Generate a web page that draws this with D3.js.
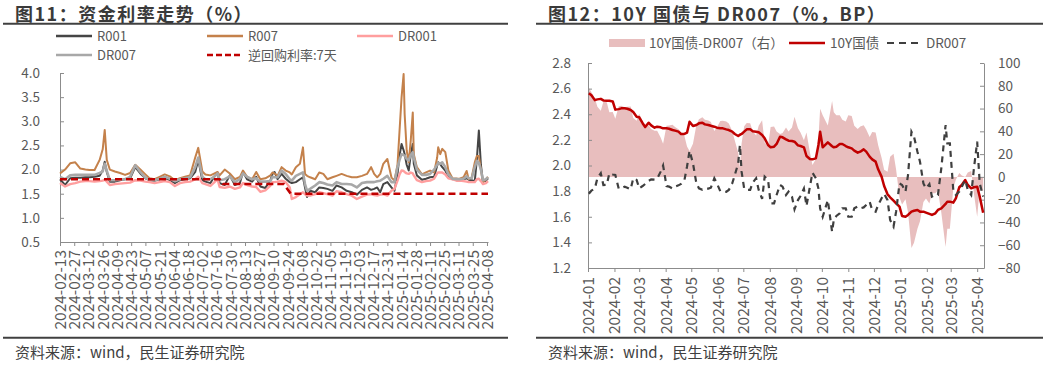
<!DOCTYPE html>
<html><head><meta charset="utf-8">
<script src="https://cdn.jsdelivr.net/npm/d3@7"></script>
<style>
body{margin:0;background:#fff;}
svg{display:block;}
</style></head><body>
<svg id="c" width="1043" height="365"></svg>
<script>
// ---------------- DATA: 图11 资金利率 ----------------
const rateDates = ["2024-02-13","2024-02-18","2024-02-23","2024-02-28","2024-03-04","2024-03-09","2024-03-13","2024-03-18","2024-03-23","2024-03-26","2024-03-28","2024-03-30","2024-04-02","2024-04-07","2024-04-12","2024-04-17","2024-04-22","2024-04-27","2024-05-02","2024-05-07","2024-05-11","2024-05-16","2024-05-21","2024-05-26","2024-05-31","2024-06-05","2024-06-10","2024-06-15","2024-06-20","2024-06-25","2024-06-28","2024-07-02","2024-07-05","2024-07-10","2024-07-14","2024-07-17","2024-07-19","2024-07-24","2024-07-29","2024-08-03","2024-08-08","2024-08-11","2024-08-15","2024-08-20","2024-08-24","2024-08-28","2024-09-02","2024-09-07","2024-09-09","2024-09-11","2024-09-14","2024-09-18","2024-09-22","2024-09-26","2024-09-28","2024-10-02","2024-10-06","2024-10-09","2024-10-11","2024-10-13","2024-10-16","2024-10-21","2024-10-25","2024-10-29","2024-11-02","2024-11-07","2024-11-11","2024-11-16","2024-11-21","2024-11-26","2024-12-01","2024-12-06","2024-12-11","2024-12-15","2024-12-18","2024-12-21","2024-12-24","2024-12-27","2024-12-31","2025-01-04","2025-01-07","2025-01-10","2025-01-12","2025-01-14","2025-01-16","2025-01-17","2025-01-19","2025-01-21","2025-01-23","2025-01-25","2025-01-26","2025-01-29","2025-02-03","2025-02-07","2025-02-11","2025-02-15","2025-02-18","2025-02-19","2025-02-21","2025-02-23","2025-02-26","2025-03-01","2025-03-05","2025-03-09","2025-03-12","2025-03-16","2025-03-19","2025-03-21","2025-03-24","2025-03-27","2025-03-29","2025-03-31","2025-04-02","2025-04-04","2025-04-07","2025-04-09"];
const r001  = [1.80,1.68,1.82,1.83,1.83,1.84,1.84,1.85,1.87,1.98,2.16,1.95,1.75,1.75,1.78,1.80,1.82,2.05,1.92,1.82,1.78,1.77,1.80,1.83,1.78,1.72,1.78,1.80,1.82,1.95,2.20,1.78,1.75,1.72,1.86,1.94,1.72,1.68,1.88,1.68,1.72,1.95,1.80,1.75,1.85,1.65,1.62,1.78,1.91,1.95,1.80,1.91,1.81,1.74,1.72,1.74,1.80,1.84,1.63,1.43,1.56,1.53,1.63,1.62,1.60,1.56,1.67,1.63,1.56,1.53,1.48,1.58,1.63,1.58,1.60,1.63,1.53,1.70,1.74,1.63,1.56,1.91,2.30,2.53,2.40,2.32,2.10,1.98,2.30,2.53,2.12,1.88,1.79,1.81,1.84,1.85,2.08,2.15,2.11,2.05,1.98,1.85,1.80,1.81,1.80,1.80,1.82,1.79,1.78,1.76,2.20,2.81,2.10,1.75,1.77,1.82];
const r007  = [1.92,2.00,2.13,2.15,2.02,2.00,1.99,1.99,2.20,2.42,2.82,2.20,2.00,1.96,1.93,1.89,1.93,2.10,2.00,1.90,1.82,1.80,1.85,1.90,1.86,1.78,1.82,1.85,1.88,2.25,2.45,1.96,1.90,1.88,1.92,1.95,1.88,2.00,1.92,1.80,1.85,1.98,1.85,1.80,1.95,1.80,1.82,1.88,1.94,1.92,1.87,2.05,1.98,1.94,1.90,2.05,2.12,2.46,1.91,1.87,1.84,1.80,1.94,1.91,1.80,1.84,1.87,1.91,1.87,1.84,1.84,1.87,1.91,2.05,1.91,1.84,1.91,2.12,2.22,1.84,1.77,2.10,2.81,3.50,3.98,3.15,2.40,2.15,2.60,3.18,2.32,2.05,1.90,1.94,1.98,1.94,2.25,2.46,2.32,2.43,2.36,1.98,1.82,1.81,1.81,1.84,1.97,1.80,1.84,2.15,2.28,2.28,2.00,1.74,1.80,1.85];
const dr001 = [1.72,1.65,1.70,1.72,1.75,1.76,1.76,1.75,1.76,1.77,1.79,1.75,1.68,1.70,1.71,1.72,1.73,1.78,1.77,1.75,1.74,1.72,1.74,1.76,1.74,1.66,1.72,1.74,1.75,1.80,1.85,1.72,1.70,1.66,1.74,1.80,1.64,1.62,1.65,1.60,1.63,1.72,1.68,1.65,1.64,1.54,1.57,1.67,1.74,1.74,1.75,1.77,1.74,1.63,1.39,1.43,1.49,1.53,1.49,1.46,1.46,1.49,1.53,1.51,1.49,1.46,1.55,1.53,1.49,1.46,1.39,1.44,1.48,1.49,1.47,1.46,1.48,1.49,1.46,1.56,1.60,1.77,1.90,1.98,1.97,1.95,1.92,1.91,1.94,1.92,1.88,1.78,1.74,1.76,1.77,1.81,1.92,1.94,1.94,1.94,1.90,1.82,1.80,1.77,1.77,1.76,1.75,1.74,1.74,1.74,1.80,1.81,1.76,1.70,1.72,1.76];
const dr007 = [1.85,1.80,1.88,1.89,1.89,1.89,1.89,1.89,1.93,1.96,2.12,1.98,1.78,1.78,1.79,1.80,1.85,2.09,1.95,1.83,1.79,1.78,1.81,1.85,1.81,1.76,1.80,1.82,1.84,2.05,2.25,1.85,1.80,1.80,1.86,1.92,1.78,1.80,1.86,1.74,1.80,1.92,1.85,1.80,1.82,1.75,1.75,1.76,1.85,1.84,1.84,1.98,1.91,1.80,1.77,1.87,1.91,1.94,1.70,1.56,1.60,1.67,1.74,1.72,1.69,1.67,1.74,1.70,1.70,1.69,1.63,1.72,1.74,1.74,1.74,1.76,1.77,1.81,1.87,1.74,1.74,2.05,2.20,2.32,2.30,2.29,2.22,2.19,2.30,2.36,2.25,2.00,1.89,1.89,1.91,2.00,2.10,2.14,2.12,2.15,2.05,1.90,1.81,1.80,1.80,1.81,1.86,1.82,1.82,2.05,2.18,2.14,2.00,1.78,1.80,1.84];
const repoDates = ["2024-02-13","2024-07-19","2024-07-22","2024-09-20","2024-09-27","2025-04-09"];
const repo7d    = [1.8,1.8,1.7,1.7,1.5,1.5];
const leftXTicks = ["2024-02-13","2024-02-27","2024-03-12","2024-03-26","2024-04-09","2024-04-23","2024-05-07","2024-05-21","2024-06-04","2024-06-18","2024-07-02","2024-07-16","2024-07-30","2024-08-13","2024-08-27","2024-09-10","2024-09-24","2024-10-08","2024-10-22","2024-11-05","2024-11-19","2024-12-03","2024-12-17","2024-12-31","2025-01-14","2025-01-28","2025-02-11","2025-02-25","2025-03-11","2025-03-25","2025-04-08"];
const leftYTicks = [0.5,1.0,1.5,2.0,2.5,3.0,3.5,4.0];
const leftNames = ["R001","R007","DR001","DR007","逆回购利率:7天"];

// ---------------- DATA: 图12 10Y国债与DR007 ----------------
const bondDates = [
"2024-01-02","2024-01-05","2024-01-09","2024-01-12","2024-01-16","2024-01-19","2024-01-23","2024-01-26","2024-01-30","2024-02-02",
"2024-02-06","2024-02-09","2024-02-13","2024-02-16","2024-02-20","2024-02-23","2024-02-27","2024-03-01","2024-03-05","2024-03-08",
"2024-03-12","2024-03-15","2024-03-19","2024-03-22","2024-03-26","2024-03-29","2024-04-02","2024-04-05","2024-04-09","2024-04-12",
"2024-04-16","2024-04-19","2024-04-23","2024-04-26","2024-04-29","2024-05-03","2024-05-07","2024-05-10","2024-05-14","2024-05-17",
"2024-05-21","2024-05-24","2024-05-28","2024-05-31","2024-06-04","2024-06-07","2024-06-11","2024-06-14","2024-06-18","2024-06-21",
"2024-06-25","2024-06-27","2024-06-29","2024-07-02","2024-07-05","2024-07-09","2024-07-12","2024-07-16","2024-07-19","2024-07-23",
"2024-07-26","2024-07-30","2024-08-02","2024-08-06","2024-08-09","2024-08-13","2024-08-16","2024-08-20","2024-08-23","2024-08-27",
"2024-08-30","2024-09-03","2024-09-06","2024-09-10","2024-09-13","2024-09-17","2024-09-20","2024-09-24","2024-09-27","2024-09-29",
"2024-10-02","2024-10-08","2024-10-13","2024-10-15","2024-10-18","2024-10-22","2024-10-25","2024-10-29","2024-11-01","2024-11-05",
"2024-11-08","2024-11-12","2024-11-15","2024-11-19","2024-11-22","2024-11-26","2024-11-29","2024-12-03","2024-12-06","2024-12-10",
"2024-12-13","2024-12-17","2024-12-20","2024-12-24","2024-12-27","2024-12-31","2025-01-03","2025-01-07","2025-01-10","2025-01-14",
"2025-01-17","2025-01-21","2025-01-24","2025-01-28","2025-01-31","2025-02-04","2025-02-07","2025-02-11","2025-02-14","2025-02-18",
"2025-02-23","2025-02-25","2025-02-28","2025-03-04","2025-03-07","2025-03-11","2025-03-14","2025-03-18","2025-03-21","2025-03-25",
"2025-03-28","2025-04-01","2025-04-04","2025-04-08"];
const cgb10y = [
2.563,2.548,2.51,2.516,2.52,2.508,2.506,2.506,2.50,2.436,
2.44,2.446,2.446,2.443,2.433,2.417,2.38,2.376,2.33,2.30,
2.334,2.313,2.295,2.303,2.298,2.29,2.29,2.287,2.277,2.272,
2.264,2.246,2.246,2.256,2.342,2.308,2.316,2.329,2.334,2.321,
2.316,2.31,2.303,2.295,2.29,2.29,2.282,2.277,2.264,2.246,
2.23,2.24,2.246,2.264,2.282,2.282,2.267,2.264,2.259,2.238,
2.212,2.16,2.142,2.147,2.168,2.225,2.22,2.204,2.194,2.191,
2.186,2.157,2.152,2.142,2.074,2.051,2.048,2.056,2.16,2.264,
2.142,2.181,2.15,2.142,2.147,2.168,2.168,2.152,2.142,2.134,
2.116,2.10,2.108,2.126,2.108,2.069,2.048,2.03,1.97,1.913,
1.84,1.775,1.752,1.726,1.705,1.679,1.606,1.60,1.614,1.64,
1.647,1.653,1.64,1.64,1.632,1.622,1.614,1.627,1.653,1.666,
1.70,1.718,1.718,1.71,1.744,1.83,1.848,1.887,1.848,1.822,
1.83,1.835,1.757,1.632];
const dr007b = [
1.78,1.804,1.82,1.90,1.94,1.848,1.85,1.939,1.93,1.926,
1.82,1.822,1.835,1.827,1.815,1.90,1.887,1.822,1.84,1.856,
1.88,1.892,1.89,1.897,1.95,2.00,1.84,1.835,1.82,1.835,
1.845,1.856,1.887,1.99,2.115,2.017,1.86,1.822,1.81,1.82,
1.82,1.827,1.90,1.861,1.80,1.796,1.795,1.809,1.86,1.926,
2.017,2.16,1.95,1.82,1.809,1.81,1.866,1.90,1.809,1.74,
1.913,1.887,1.705,1.705,1.77,1.848,1.835,1.77,1.796,1.757,
1.658,1.73,1.762,1.82,1.684,1.835,1.944,1.90,1.82,1.665,
1.60,1.73,1.483,1.575,1.606,1.627,1.666,1.666,1.60,1.60,
1.666,1.68,1.666,1.673,1.692,1.718,1.653,1.64,1.692,1.744,
1.778,1.73,1.575,1.523,1.64,1.86,1.848,1.796,1.926,2.264,
2.225,2.108,2.03,1.86,1.822,1.855,1.757,1.77,1.77,1.98,
2.316,2.173,2.173,1.809,1.77,1.796,1.835,1.887,1.809,1.77,
1.965,2.186,1.86,1.757];
const rightXTicks = ["2024-01","2024-02","2024-03","2024-04","2024-05","2024-06","2024-07","2024-08","2024-09","2024-10","2024-11","2024-12","2025-01","2025-02","2025-03","2025-04"];
const rightYTicksL = [1.2,1.4,1.6,1.8,2.0,2.2,2.4,2.6,2.8];
const rightYTicksR = [-80,-60,-40,-20,0,20,40,60,80,100];
const rightNames = ["10Y国债-DR007（右）","10Y国债","DR007"];

// ---------------- DRAW ----------------
const FONT = '"Noto Sans CJK SC","Noto Sans",sans-serif';
const TXT = "#595959", AX = "#8c8c8c", DARK = "#404040";
const parseD = d3.timeParse("%Y-%m-%d");
const parseM = d3.timeParse("%Y-%m");
const svg = d3.select("#c");

function styleAxis(g, size){
  g.attr("font-family", null).attr("font-size", null);
  g.select(".domain").attr("stroke", AX).attr("stroke-width", 1);
  g.selectAll(".tick line").attr("stroke", AX);
  g.selectAll("text").attr("fill", TXT).style("font-family", FONT).style("font-size", size + "px");
}

function frame(x0, x1, title){
  svg.append("text").attr("x", x0 + 12).attr("y", 21).text(title)
    .style("font-family", FONT).style("font-size", "18px").style("font-weight", "bold")
    .style("letter-spacing", "1.5px").attr("fill", "#3a3a3a");
  svg.append("line").attr("x1", x0).attr("x2", x1).attr("y1", 23.7).attr("y2", 23.7).attr("stroke", DARK).attr("stroke-width", 2);
  svg.append("line").attr("x1", x0).attr("x2", x1).attr("y1", 337.7).attr("y2", 337.7).attr("stroke", DARK).attr("stroke-width", 2);
  svg.append("text").attr("x", x0 + 12).attr("y", 357.5).text("资料来源：wind，民生证券研究院")
    .style("font-family", FONT).style("font-size", "15px").attr("fill", DARK);
}

// ===== Chart 1 =====
frame(3, 508, "图11：资金利率走势（%）");
const x1 = d3.scaleTime().domain([parseD("2024-02-13"), parseD("2025-04-09")]).range([60, 488]);
const y1 = d3.scaleLinear().domain([0.5, 4.0]).range([242, 73]);

const gy1 = svg.append("g").attr("transform", "translate(60,0)")
  .call(d3.axisLeft(y1).tickValues(leftYTicks).tickFormat(d3.format(".1f")).tickSizeInner(-4).tickSizeOuter(0).tickPadding(20));
styleAxis(gy1, 13.5);
const gx1 = svg.append("g").attr("transform", "translate(0,242)")
  .call(d3.axisBottom(x1).tickValues(leftXTicks.map(parseD)).tickFormat(d3.timeFormat("%Y-%m-%d")).tickSizeInner(4).tickSizeOuter(0));
styleAxis(gx1, 15.5);
gx1.selectAll("text").attr("transform", "rotate(-90)").attr("x", -8).attr("y", 0).attr("dy", "0.35em").attr("text-anchor", "end");

const leftStyle = [
  {vals: r001,  color: "#454545", w: 2},
  {vals: r007,  color: "#C4814B", w: 2},
  {vals: dr001, color: "#FF9E9E", w: 2.4},
  {vals: dr007, color: "#A8A8A8", w: 2.6}
];
const line1 = d3.line().x(d => x1(d[0])).y(d => y1(d[1]));
leftStyle.forEach(s => {
  svg.append("path").datum(rateDates.map((d, i) => [parseD(d), s.vals[i]]))
    .attr("d", line1).attr("fill", "none").attr("stroke", s.color).attr("stroke-width", s.w).attr("stroke-linejoin", "round");
});
svg.append("path").datum(repoDates.map((d, i) => [parseD(d), repo7d[i]]))
  .attr("d", line1).attr("fill", "none").attr("stroke", "#C00000").attr("stroke-width", 2.6).attr("stroke-dasharray", "7,4");

// legend 1
const leg1 = [
  {x: 56, y: 36, color: "#454545", w: 2.4, dash: null},
  {x: 207, y: 36, color: "#C4814B", w: 2.4, dash: null},
  {x: 357, y: 36, color: "#FF9E9E", w: 2.4, dash: null},
  {x: 56, y: 55, color: "#A8A8A8", w: 2.6, dash: null},
  {x: 207, y: 55, color: "#C00000", w: 2.6, dash: "6,3"}
];
leg1.forEach((l, i) => {
  svg.append("line").attr("x1", l.x).attr("x2", l.x + 36).attr("y1", l.y).attr("y2", l.y)
    .attr("stroke", l.color).attr("stroke-width", l.w).attr("stroke-dasharray", l.dash);
  svg.append("text").attr("x", l.x + 41).attr("y", l.y).attr("dy", "0.36em").text(leftNames[i])
    .style("font-family", FONT).style("font-size", "13px").attr("fill", TXT);
});

// ===== Chart 2 =====
frame(536, 1043, "图12：10Y 国债与 DR007（%，BP）");
const x2 = d3.scaleTime().domain([parseD("2024-01-01"), parseD("2025-04-09")]).range([588, 984]);
const y2 = d3.scaleLinear().domain([1.2, 2.8]).range([268, 63]);
const y2r = d3.scaleLinear().domain([-80, 100]).range([268, 63]);

const bond = bondDates.map((d, i) => ({t: parseD(d), y: cgb10y[i], dr: dr007b[i], sp: (cgb10y[i] - dr007b[i]) * 100}));

svg.append("path").datum(bond)
  .attr("d", d3.area().x(d => x2(d.t)).y0(y2r(0)).y1(d => y2r(d.sp)))
  .attr("fill", "#E8BEBE");

const gy2 = svg.append("g").attr("transform", "translate(588,0)")
  .call(d3.axisLeft(y2).tickValues(rightYTicksL).tickFormat(d3.format(".1f")).tickSizeInner(-4).tickSizeOuter(0).tickPadding(17));
styleAxis(gy2, 13.5);
const gy2r = svg.append("g").attr("transform", "translate(984,0)")
  .call(d3.axisRight(y2r).tickValues(rightYTicksR).tickFormat(d3.format("d")).tickSizeInner(-4).tickSizeOuter(0).tickPadding(14));
styleAxis(gy2r, 13.5);
const gx2 = svg.append("g").attr("transform", "translate(0,268)")
  .call(d3.axisBottom(x2).tickValues(rightXTicks.map(parseM)).tickFormat(d3.timeFormat("%Y-%m")).tickSizeInner(4).tickSizeOuter(0));
styleAxis(gx2, 15.5);
gx2.selectAll("text").attr("transform", "rotate(-90)").attr("x", -9).attr("y", 0).attr("dy", "0.35em").attr("text-anchor", "end");

svg.append("path").datum(bond)
  .attr("d", d3.line().x(d => x2(d.t)).y(d => y2(d.y)))
  .attr("fill", "none").attr("stroke", "#C00000").attr("stroke-width", 2.5).attr("stroke-linejoin", "round");
svg.append("path").datum(bond)
  .attr("d", d3.line().x(d => x2(d.t)).y(d => y2(d.dr)))
  .attr("fill", "none").attr("stroke", "#3f3f3f").attr("stroke-width", 2.2).attr("stroke-dasharray", "6,5");

// legend 2
svg.append("rect").attr("x", 609).attr("y", 39).attr("width", 36).attr("height", 8).attr("fill", "#E8BEBE");
svg.append("line").attr("x1", 789).attr("x2", 825).attr("y1", 43).attr("y2", 43).attr("stroke", "#C00000").attr("stroke-width", 2.5);
svg.append("line").attr("x1", 887).attr("x2", 922).attr("y1", 43).attr("y2", 43).attr("stroke", "#3f3f3f").attr("stroke-width", 2.2).attr("stroke-dasharray", "7,5");
[[649, 0], [830, 1], [926, 2]].forEach(([x, i]) => {
  svg.append("text").attr("x", x).attr("y", 43).attr("dy", "0.36em").text(rightNames[i])
    .style("font-family", FONT).style("font-size", "13.5px").attr("fill", TXT);
});
</script>
</body></html>
